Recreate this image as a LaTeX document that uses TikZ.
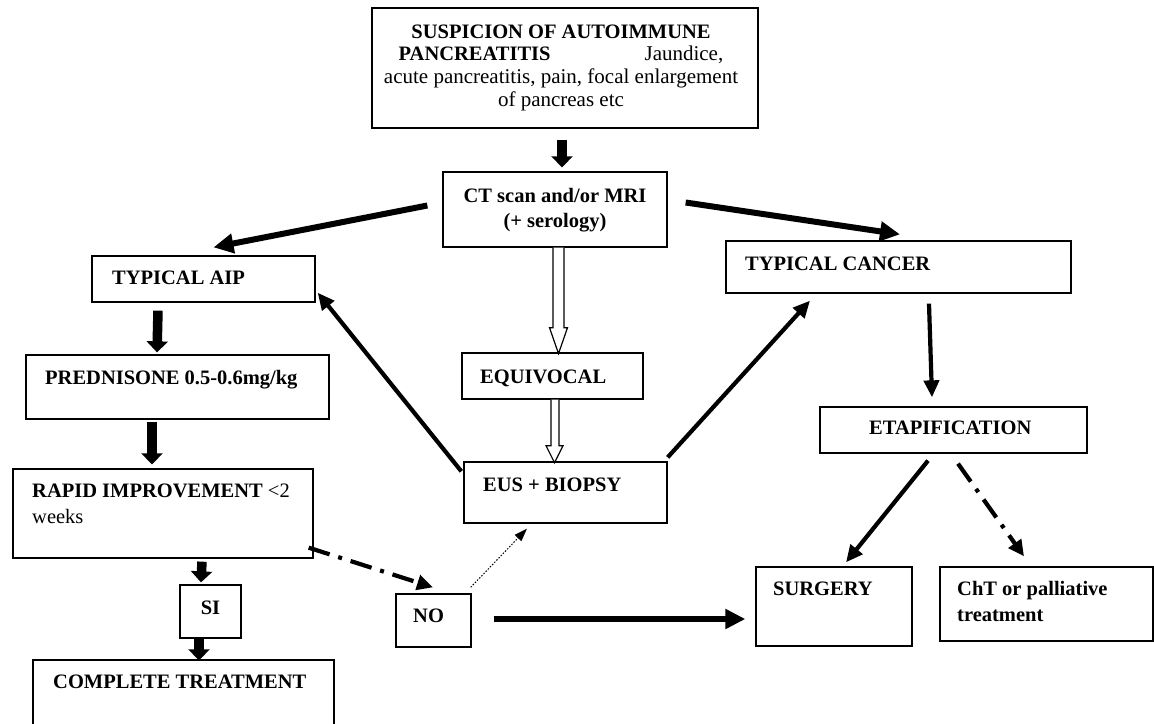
\documentclass[tikz,border=0pt]{standalone}
\usepackage{fontspec}
\setmainfont{Liberation Serif}
\usetikzlibrary{arrows.meta,fit,calc}
\begin{document}
\begin{tikzpicture}[x=1pt,y=-1pt,
  box/.style={draw=black, line width=1.3pt, inner sep=0pt},
  txt/.style={inner sep=0pt, anchor=base west, font=\bfseries\fontsize{20.5}{23}\selectfont},
  blockarrow/.style={line width=9.5pt, -{Triangle[width=21pt,length=11pt]}},
  thickarrow/.style={line width=6pt, -{Triangle[width=19pt,length=20pt]}},
  medarrow/.style={line width=4.2pt, -{Triangle[width=15pt,length=17pt]}},
  dashdotarrow/.style={line width=4.2pt, dash pattern=on 22pt off 9pt on 4pt off 9pt, -{Triangle[width=15pt,length=16pt]}},
  dotarrow/.style={line width=1pt, dash pattern=on 1.5pt off 1.6pt, -{Triangle[width=9pt,length=13pt]}},
  hollow/.style={draw=black, line width=1.2pt, fill=white, line join=miter}
]
\useasboundingbox (0,0) rectangle (1154,723);
\fill[white] (0,0) rectangle (1154,723);

% boxes
\node[box, fit={(372,8) (758,128)}] (top) {};
\node[box, fit={(443,172) (667,247)}] (ct) {};
\node[box, fit={(92,256) (315,302)}] (aip) {};
\node[box, fit={(26,355) (329,419)}] (pred) {};
\node[box, fit={(13,469) (313,558)}] (rapid) {};
\node[box, fit={(180,585) (241,638)}] (si) {};
\node[box, fit={(33,660) (334,728)}] (comp) {};
\node[box, fit={(726,241) (1071,293)}] (cancer) {};
\node[box, fit={(462,353) (643,399)}] (equiv) {};
\node[box, fit={(464,462) (667,523)}] (eus) {};
\node[box, fit={(820,407) (1087,453)}] (etap) {};
\node[box, fit={(396,594) (471,647)}] (no) {};
\node[box, fit={(756,567) (912,646)}] (surg) {};
\node[box, fit={(940,567) (1153,641)}] (cht) {};

% texts (base anchor of a multi-line node = baseline of its last line)
\node[txt, anchor=base, align=center, font=\bfseries\fontsize{20.5}{22.6}\selectfont] (topT) at (561,106)
  {SUSPICION OF AUTOIMMUNE\\PANCREATITIS\hspace{94pt}{\mdseries\fontsize{21}{22.6}\selectfont Jaundice,}\\
   {\mdseries\fontsize{21}{22.6}\selectfont acute pancreatitis, pain, focal enlargement}\\
   {\mdseries\fontsize{21}{22.6}\selectfont of pancreas etc}};
\node[txt, anchor=base, align=center, font=\bfseries\fontsize{20.5}{25}\selectfont] (ctT) at (555,227)
  {CT scan and/or MRI\\(+ serology)};
\node[txt] (aipT) at (112,284) {TYPICAL AIP};
\node[txt] (predT) at (45,384) {PREDNISONE 0.5-0.6mg/kg};
\node[txt, align=left, font=\bfseries\fontsize{20.5}{26}\selectfont] (rapidT) at (32,523)
  {RAPID IMPROVEMENT {\mdseries <2}\\{\mdseries weeks}};
\node[txt, anchor=base] (siT) at (210.5,614) {SI};
\node[txt] (compT) at (53,688) {COMPLETE TREATMENT};
\node[txt] (noT) at (413,622) {NO};
\node[txt] (eusT) at (483,491) {EUS + BIOPSY};
\node[txt] (equivT) at (480,383) {EQUIVOCAL};
\node[txt] (cancerT) at (745,270) {TYPICAL CANCER};
\node[txt] (etapT) at (869,434) {ETAPIFICATION};
\node[txt] (surgT) at (773,595) {SURGERY};
\node[txt, align=left, font=\bfseries\fontsize{20.5}{26}\selectfont] (chtT) at (957,621)
  {ChT or palliative\\treatment};

% block arrows
\draw[blockarrow] ([shift={(-3,11)}]top.south) -- ([shift={(7,-4)}]ct.north);
\draw[blockarrow] ([shift={(-45.5,8)}]aip.south) -- ([shift={(-20.5,-2)}]pred.north);
\draw[blockarrow] ([shift={(-25.5,2)}]pred.south) -- ([shift={(-11,-4)}]rapid.north);
\draw[blockarrow] ([shift={(39,3)}]rapid.south) -- ([shift={(-9.5,-2)}]si.north);
\draw[blockarrow] ([shift={(-11.5,0)}]si.south) -- ([shift={(15.5,1)}]comp.north);

% thick arrows
\draw[thickarrow] ([shift={(-15,-4)}]ct.west) -- ([shift={(10,-8)}]aip.north);
\draw[thickarrow] ([shift={(18,-7)}]ct.east) -- ([shift={(1.5,-6)}]cancer.north);
\draw[thickarrow] ([shift={(22,-1.5)}]no.east) -- ([shift={(-10,12.5)}]surg.west);

% medium arrows
\draw[medarrow] ([shift={(-2,10)}]eus.north west) -- ([shift={(2,-10)}]aip.south east);
\draw[medarrow] ([shift={(0,-4)}]eus.north east) -- ([shift={(-88.5,7)}]cancer.south);
\draw[medarrow] ([shift={(30.5,10)}]cancer.south) -- ([shift={(-21.5,-9)}]etap.north);
\draw[medarrow] ([shift={(-25.5,7)}]etap.south) -- ([shift={(12,-4)}]surg.north);

% dash-dot arrows
\draw[dashdotarrow] ([shift={(4.5,10)}]etap.south) -- ([shift={(-22.5,-10)}]cht.north);
\draw[dashdotarrow] ([shift={(-5,-11)}]rapid.south east) -- ([shift={(-0.5,-6)}]no.north);

% dotted arrow
\draw[dotarrow] ([shift={(-1,-6)}]no.north east) -- ([shift={(-38.5,5)}]eus.south);

% hollow arrows
\draw[hollow, shift={(ct.south)}] (-2,0) -- (-2,80) -- (-5.5,80) -- (3.5,106) -- (12.5,80) -- (9,80) -- (9,0);
\draw[hollow, shift={(equiv.south)}] (-1.5,0) -- (-1.5,46) -- (-6.5,46) -- (2,63) -- (10.5,46) -- (6.5,46) -- (6.5,0);
\end{tikzpicture}
\end{document}
